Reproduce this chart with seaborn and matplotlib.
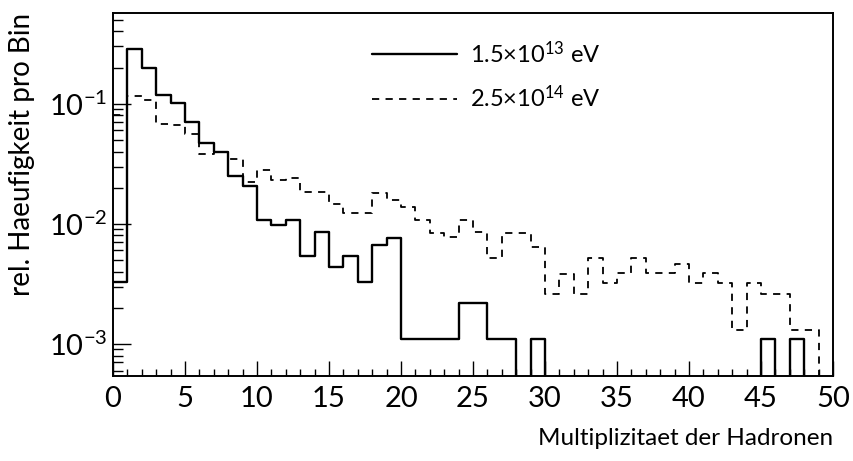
import numpy as np
import pandas as pd
import seaborn as sns
import matplotlib
matplotlib.use("Agg")
import matplotlib.pyplot as plt
from matplotlib.ticker import FixedLocator, FixedFormatter, MultipleLocator, LogLocator, NullFormatter

# ---- data ----
bin_edges = list(range(0, 51))
series_labels = ["1.5\u00d710$^{13}$ eV", "2.5\u00d710$^{14}$ eV"]
solid_values = [0.0033, 0.287, 0.198, 0.119, 0.101, 0.0704, 0.047, 0.0396, 0.0248, 0.0205,
                0.0108, 0.0098, 0.0107, 0.0054, 0.0086, 0.0044, 0.0054, 0.0033, 0.0066, 0.0076,
                0.0011, 0.0011, 0.0011, 0.0011, 0.0022, 0.0022, 0.0011, 0.0011, 0.0, 0.0011,
                0.0, 0.0, 0.0, 0.0, 0.0, 0.0, 0.0, 0.0, 0.0, 0.0,
                0.0, 0.0, 0.0, 0.0, 0.0, 0.0011, 0.0, 0.0011, 0.0, 0.0]
dashed_values = [0.080, 0.117, 0.108, 0.068, 0.066, 0.056, 0.0383, 0.0393, 0.0346, 0.0225,
                 0.0279, 0.0233, 0.024, 0.0185, 0.0183, 0.0146, 0.0123, 0.0123, 0.0182, 0.0158,
                 0.0138, 0.0108, 0.0084, 0.0077, 0.0108, 0.0085, 0.0052, 0.0084, 0.0084, 0.0064,
                 0.0026, 0.0038, 0.0026, 0.0052, 0.0032, 0.0039, 0.0052, 0.0039, 0.0039, 0.0046,
                 0.0032, 0.0039, 0.0032, 0.0013, 0.0032, 0.0026, 0.0026, 0.0013, 0.0013, 0.0]
x_tick_values = [0, 5, 10, 15, 20, 25, 30, 35, 40, 45, 50]
y_tick_values = [1e-3, 1e-2, 1e-1]
y_tick_labels = ["$10^{-3}$", "$10^{-2}$", "$10^{-1}$"]
x_label = "Multiplizitaet der Hadronen"
y_label = "rel. Haeufigkeit pro Bin"

sns.set_style("ticks")
plt.rcParams["font.family"] = ["Lato", "DejaVu Sans"]
plt.rcParams["font.weight"] = "normal"
plt.rcParams["text.color"] = "black"
plt.rcParams["axes.labelcolor"] = "black"
plt.rcParams["xtick.color"] = "black"
plt.rcParams["ytick.color"] = "black"
plt.rcParams["mathtext.fontset"] = "custom"
plt.rcParams["mathtext.rm"] = "Lato"
plt.rcParams["mathtext.it"] = "Lato"
plt.rcParams["mathtext.default"] = "rm"

centers = [e + 0.5 for e in bin_edges[:-1]]
df = pd.DataFrame({"x": centers * 2,
                   "w": solid_values + dashed_values,
                   "series": [series_labels[0]] * len(centers) + [series_labels[1]] * len(centers)})

fig = plt.figure(figsize=(8.54, 4.61), dpi=100)
ax = fig.add_axes([113 / 854, 1 - 376 / 461, 720 / 854, 363 / 461])

styles = [dict(color="black", linewidth=1.7, linestyle="-"),
          dict(color="black", linewidth=1.3, linestyle=(0, (4, 3.5)))]
for lab, st in zip(series_labels, styles):
    sub = df[df["series"] == lab]
    sns.histplot(data=sub, x="x", weights="w", bins=bin_edges, element="step",
                 fill=False, ax=ax, label=lab, **st)

ax.set_yscale("log")
ax.set_xlim(0, 50)
ax.set_ylim(5.4e-4, 0.57)

ax.xaxis.set_major_locator(FixedLocator(x_tick_values))
ax.xaxis.set_minor_locator(MultipleLocator(1))
ax.yaxis.set_major_locator(FixedLocator(y_tick_values))
ax.yaxis.set_major_formatter(FixedFormatter(y_tick_labels))
ax.yaxis.set_minor_locator(LogLocator(base=10, subs=[2, 3, 4, 5, 6, 7, 8, 9], numticks=20))
ax.yaxis.set_minor_formatter(NullFormatter())

ax.tick_params(axis="both", which="both", direction="in", top=False, right=False,
               labelsize=21, width=1.0, color="black", labelcolor="black")
ax.tick_params(axis="x", which="major", length=11, pad=7)
ax.tick_params(axis="x", which="minor", length=5)
ax.tick_params(axis="y", which="major", length=13, pad=4)
ax.tick_params(axis="y", which="minor", length=7)

for s in ax.spines.values():
    s.set_linewidth(1.4)
    s.set_color("black")
    s.set_visible(True)

ax.set_xlabel(x_label, fontsize=17.5, loc="right", labelpad=12, color="black")
ax.set_ylabel(y_label, fontsize=20, loc="top", labelpad=10, color="black")

leg = ax.legend(loc="upper left", bbox_to_anchor=(0.36, 0.925), frameon=False,
                fontsize=17, handlelength=3.6, handletextpad=0.55, labelspacing=0.75,
                borderpad=0, borderaxespad=0)
for t in leg.get_texts():
    t.set_color("black")

fig.savefig("out.png", dpi=100)
